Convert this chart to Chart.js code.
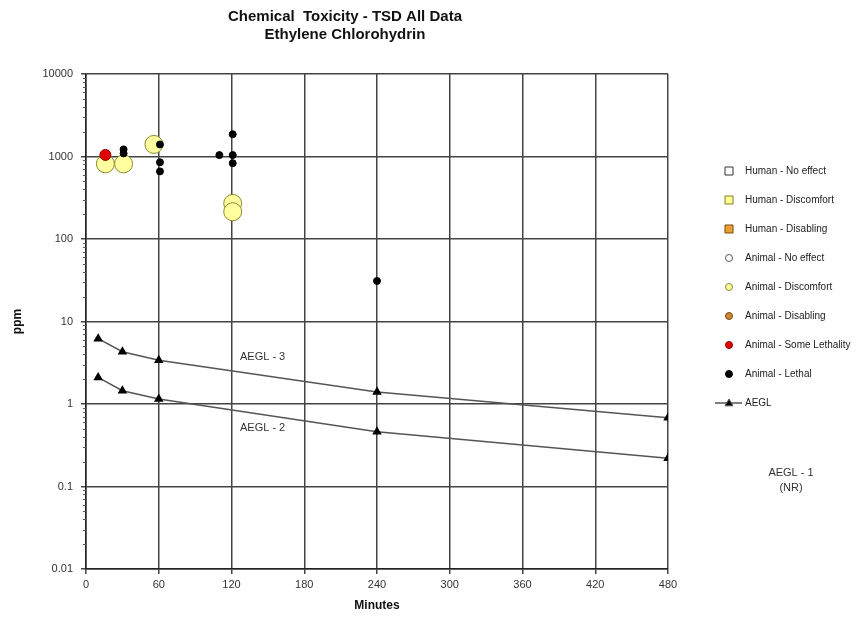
<!DOCTYPE html>
<html><head><meta charset="utf-8">
<script src="https://cdn.jsdelivr.net/npm/chart.js@4"></script>
<style>html,body{margin:0;padding:0;background:#fff}</style>
</head><body>
<canvas id="c" width="858" height="620"></canvas>
<script>
// ---- data ----
const titleLines = ['Chemical  Toxicity - TSD All Data', 'Ethylene Chlorohydrin'];
const xTicks = [0, 60, 120, 180, 240, 300, 360, 420, 480];
const yTicks = [0.01, 0.1, 1, 10, 100, 1000, 10000];

const aeglTimes = [10, 30, 60, 240, 480];
const aegl3 = [6.2, 4.3, 3.4, 1.4, 0.68];
const aegl2 = [2.1, 1.45, 1.15, 0.46, 0.22];

const animalDiscomfortTimes = [16, 31, 56, 121, 121];
const animalDiscomfortPpm = [815, 815, 1400, 270, 214];

const animalSomeLethalTimes = [16];
const animalSomeLethalPpm = [1045];

const animalLethalTimes = [31, 31, 61, 61, 61, 110, 121, 121, 121, 240];
const animalLethalPpm = [1220, 1090, 1400, 850, 660, 1040, 1860, 1040, 830, 31];

const legendNames = ['Human - No effect', 'Human - Discomfort', 'Human - Disabling',
  'Animal - No effect', 'Animal - Discomfort', 'Animal - Disabling',
  'Animal - Some Lethality', 'Animal - Lethal', 'AEGL'];

const aeglLabels = [
  {text: 'AEGL - 3', t: 127, v: 3.7},
  {text: 'AEGL - 2', t: 127, v: 0.51}
];

const pts = (xs, ys) => xs.map((x, i) => ({x, y: ys[i]}));
const FONT = 'Liberation Sans, Arial, sans-serif';

const datasets = [
  {label: legendNames[0], data: [], order: 9, pointStyle: 'rect', backgroundColor: '#ffffff', borderColor: '#333333', pointRadius: 4},
  {label: legendNames[1], data: [], order: 8, pointStyle: 'rect', backgroundColor: '#ffff99', borderColor: '#808020', pointRadius: 4},
  {label: legendNames[2], data: [], order: 7, pointStyle: 'rect', backgroundColor: '#e8a030', borderColor: '#7a4a10', pointRadius: 4},
  {label: legendNames[3], data: [], order: 6, pointStyle: 'circle', backgroundColor: '#ffffff', borderColor: '#555555', pointRadius: 3.5},
  {label: legendNames[4], data: pts(animalDiscomfortTimes, animalDiscomfortPpm), order: 5, pointStyle: 'circle', backgroundColor: '#ffffa0', borderColor: '#8a8a30', borderWidth: 1, pointRadius: 9, legendRadius: 3.5},
  {label: legendNames[5], data: [], order: 4, pointStyle: 'circle', backgroundColor: '#cc8833', borderColor: '#7a4a10', pointRadius: 3.5},
  {label: legendNames[6], data: pts(animalSomeLethalTimes, animalSomeLethalPpm), order: 1, pointStyle: 'circle', backgroundColor: '#e00000', borderColor: '#900000', borderWidth: 1, pointRadius: 5.5, legendRadius: 3.5},
  {label: legendNames[7], data: pts(animalLethalTimes, animalLethalPpm), order: 0, pointStyle: 'circle', backgroundColor: '#000000', borderColor: '#000000', borderWidth: 1, pointRadius: 3.5, legendRadius: 3.5},
  {label: legendNames[8], type: 'line', order: 3, data: pts(aeglTimes, aegl3), showLine: true, borderColor: '#555555', borderWidth: 1.5, pointStyle: 'triangle', pointRadius: 4, backgroundColor: '#000000', pointBorderColor: '#000000', pointBackgroundColor: '#000000', tension: 0},
  {label: 'AEGL-2', type: 'line', order: 3, data: pts(aeglTimes, aegl2), showLine: true, borderColor: '#555555', borderWidth: 1.5, pointStyle: 'triangle', pointRadius: 4, backgroundColor: '#000000', pointBorderColor: '#000000', pointBackgroundColor: '#000000', tension: 0, noLegend: true}
];

const extras = {
  id: 'extras',
  afterDraw(chart) {
    const ctx = chart.ctx;
    const xs = chart.scales.x, ys = chart.scales.y;
    ctx.save();
    // minor log ticks
    ctx.strokeStyle = '#555';
    ctx.lineWidth = 1;
    for (let d = 0; d < yTicks.length - 1; d++) {
      for (let k = 2; k <= 9; k++) {
        const y = Math.round(ys.getPixelForValue(yTicks[d] * k)) + 0.5;
        ctx.beginPath();
        ctx.moveTo(xs.left - 3, y);
        ctx.lineTo(xs.left + 1, y);
        ctx.stroke();
      }
    }
    // titles
    ctx.fillStyle = '#111';
    ctx.textAlign = 'center';
    ctx.textBaseline = 'middle';
    ctx.font = 'bold 15px ' + FONT;
    ctx.fillText(titleLines[0], 345, 17);
    ctx.fillText(titleLines[1], 345, 35);
    // AEGL labels
    ctx.font = '11px ' + FONT;
    ctx.fillStyle = '#333';
    ctx.textAlign = 'left';
    aeglLabels.forEach(l => ctx.fillText(l.text, xs.getPixelForValue(l.t), ys.getPixelForValue(l.v)));
    // AEGL-1 NR
    ctx.textAlign = 'center';
    ctx.fillText('AEGL - 1', 791, 473);
    ctx.fillText('(NR)', 791, 488);
    // legend
    ctx.font = '10px ' + FONT;
    ctx.textAlign = 'left';
    let y = 171;
    chart.data.datasets.forEach(ds => {
      if (ds.noLegend) return;
      const mx = 729;
      if (ds.type === 'line') {
        ctx.strokeStyle = ds.borderColor;
        ctx.lineWidth = 1.5;
        ctx.beginPath(); ctx.moveTo(715, y); ctx.lineTo(742, y); ctx.stroke();
      }
      ctx.fillStyle = ds.backgroundColor;
      ctx.strokeStyle = ds.borderColor;
      ctx.lineWidth = 1;
      ctx.beginPath();
      const r = ds.type === 'line' ? 4 : (ds.legendRadius || ds.pointRadius);
      if (ds.pointStyle === 'rect') ctx.rect(mx - r, y - r, 2 * r, 2 * r);
      else if (ds.pointStyle === 'circle') ctx.arc(mx, y, r, 0, Math.PI * 2);
      else { ctx.moveTo(mx, y - r); ctx.lineTo(mx + r, y + r * 0.7); ctx.lineTo(mx - r, y + r * 0.7); ctx.closePath(); }
      ctx.fill(); ctx.stroke();
      ctx.fillStyle = '#222';
      ctx.fillText(ds.label, 745, y);
      y += 29;
    });
    ctx.restore();
  }
};

new Chart(document.getElementById('c'), {
  type: 'scatter',
  data: {datasets},
  options: {
    responsive: false,
    animation: false,
    layout: {padding: {top: 74, right: 190, left: 0, bottom: 0}},
    plugins: {legend: {display: false}, title: {display: false}, tooltip: {enabled: false}},
    scales: {
      x: {
        type: 'linear', min: 0, max: 480,
        afterBuildTicks: s => { s.ticks = xTicks.map(v => ({value: v})); },
        afterFit: s => { s.height = 51; },
        grid: {color: '#444', lineWidth: 1.5, tickLength: 5},
        border: {color: '#222', width: 1.5},
        ticks: {color: '#333', font: {family: FONT, size: 11}, padding: 4, maxRotation: 0, autoSkip: false},
        title: {display: true, text: 'Minutes', color: '#111', font: {family: FONT, size: 12, weight: 'bold'}, padding: {top: 0, bottom: 7}}
      },
      y: {
        type: 'logarithmic', min: 0.01, max: 10000,
        afterBuildTicks: s => { s.ticks = yTicks.map(v => ({value: v})); },
        afterFit: s => { s.width = 86; },
        grid: {color: '#444', lineWidth: 1.5, tickLength: 5},
        border: {color: '#222', width: 1.5},
        ticks: {color: '#333', font: {family: FONT, size: 11}, padding: 8, autoSkip: false, callback: v => String(v)},
        title: {display: true, text: 'ppm', color: '#111', font: {family: FONT, size: 12, weight: 'bold'}, padding: {top: 10, bottom: 0}}
      }
    }
  },
  plugins: [extras]
});
</script>
</body></html>
